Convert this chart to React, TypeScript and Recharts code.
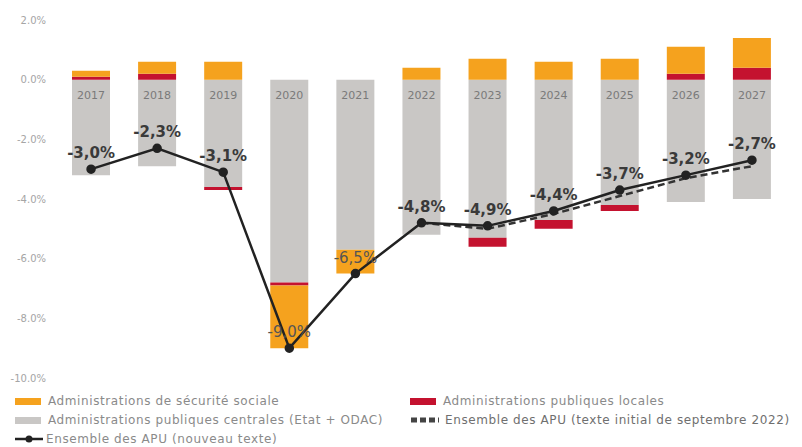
import { Bar, ComposedChart, Line, XAxis, YAxis, LabelList } from 'recharts';

const years = ['2017', '2018', '2019', '2020', '2021', '2022', '2023', '2024', '2025', '2026', '2027'];
const centrales = [-3.2, -2.9, -3.6, -6.8, -5.7, -5.2, -5.3, -4.7, -4.2, -4.1, -4.0];
const locales = [0.1, 0.2, -0.1, -0.1, 0, 0, -0.3, -0.3, -0.2, 0.2, 0.4];
const secu = [0.2, 0.4, 0.6, -2.1, -0.8, 0.4, 0.7, 0.6, 0.7, 0.9, 1.0];
const apuNouveau = [-3.0, -2.3, -3.1, -9.0, -6.5, -4.8, -4.9, -4.4, -3.7, -3.2, -2.7];
const apuInitial = [null, null, null, null, null, -4.8, -5.0, -4.5, -3.9, -3.3, -2.9];
const yTicks = [2, 0, -2, -4, -6, -8, -10];

const data = years.map((year, i) => ({
  year,
  centrales: centrales[i],
  locales: locales[i],
  secu: secu[i],
  nouveau: apuNouveau[i],
  initial: apuInitial[i],
}));

const FONT = '"DejaVu Sans", sans-serif';
const GRAY = '#C9C7C5';
const ORANGE = '#F5A21E';
const RED = '#C4122F';

// year written just under the zero line, inside the grey bar
const YearLabel = (props: any) => {
  const { x, y, width, height, index } = props;
  const top = Math.min(y, y + height);
  return (
    <text x={x + width / 2} y={top + 19} textAnchor="middle" fontSize={11} fill="#7a7a7a" fontFamily={FONT}>
      {years[index]}
    </text>
  );
};

const PointLabel = (props: any) => {
  const { x, y, value, index } = props;
  const faded = index === 3 || index === 4;
  return (
    <text
      x={x}
      y={y - 11}
      textAnchor="middle"
      fontSize={15}
      fontWeight={faded ? 'normal' : 'bold'}
      fill={faded ? '#555' : '#3a3a3a'}
      fontFamily={FONT}
    >
      {value.toFixed(1).replace('.', ',') + '%'}
    </text>
  );
};

const legendText = {
  fontFamily: FONT,
  fontSize: 12,
  letterSpacing: 0.6,
  color: '#8a8a8a',
  whiteSpace: 'nowrap' as const,
};

function Swatch({ color }: { color: string }) {
  return <span style={{ display: 'inline-block', width: 26, height: 7, background: color, marginRight: 7 }} />;
}

function LegendBlock() {
  return (
    <div style={{ position: 'absolute', left: 15, top: 394, width: 790 }}>
      <div style={{ position: 'absolute', left: 0, top: 0, display: 'flex', alignItems: 'center', ...legendText }}>
        <Swatch color={ORANGE} />Administrations de sécurité sociale
      </div>
      <div style={{ position: 'absolute', left: 395, top: 0, display: 'flex', alignItems: 'center', ...legendText }}>
        <Swatch color={RED} />Administrations publiques locales
      </div>
      <div style={{ position: 'absolute', left: 0, top: 19, display: 'flex', alignItems: 'center', ...legendText }}>
        <Swatch color={GRAY} />Administrations publiques centrales (Etat + ODAC)
      </div>
      <div style={{ position: 'absolute', left: 395, top: 19, display: 'flex', alignItems: 'center', ...legendText, color: '#6f6f6f' }}>
        <svg width={30} height={8} style={{ marginRight: 5 }}>
          <line x1={1} y1={4} x2={29} y2={4} stroke="#444" strokeWidth={5} strokeDasharray="6 3" />
        </svg>
        Ensemble des APU (texte initial de septembre 2022)
      </div>
      <div style={{ position: 'absolute', left: 0, top: 38, display: 'flex', alignItems: 'center', ...legendText }}>
        <svg width={28} height={8} style={{ marginRight: 3 }}>
          <line x1={0} y1={4} x2={28} y2={4} stroke="#222" strokeWidth={2.5} />
          <circle cx={14} cy={4} r={3.5} fill="#222" />
        </svg>
        Ensemble des APU (nouveau texte)
      </div>
    </div>
  );
}

export default function App() {
  return (
    <div style={{ position: 'relative', width: 802, height: 447, background: '#fff' }}>
      <style>{'body{margin:0}'}</style>
      <ComposedChart
        width={802}
        height={447}
        data={data}
        stackOffset="sign"
        margin={{ top: 20, right: 17, left: 0, bottom: 69 }}
      >
        <XAxis dataKey="year" hide />
        <YAxis
          width={58}
          domain={[-10, 2]}
          ticks={yTicks}
          interval={0}
          axisLine={false}
          tickLine={false}
          tickMargin={6}
          tick={{ fontSize: 10, fill: '#a5a5a5', fontFamily: FONT }}
          tickFormatter={(v: number) => v.toFixed(1) + '%'}
        />
        <Bar dataKey="centrales" stackId="a" fill={GRAY} barSize={38} isAnimationActive={false}>
          <LabelList dataKey="centrales" content={YearLabel} />
        </Bar>
        <Bar dataKey="locales" stackId="a" fill={RED} barSize={38} isAnimationActive={false} />
        <Bar dataKey="secu" stackId="a" fill={ORANGE} barSize={38} isAnimationActive={false} />
        <Line
          dataKey="initial"
          stroke="#333"
          strokeWidth={2.5}
          strokeDasharray="7 4"
          dot={false}
          connectNulls={false}
          isAnimationActive={false}
        />
        <Line
          dataKey="nouveau"
          stroke="#222"
          strokeWidth={2.5}
          dot={{ r: 3.5, fill: '#222', stroke: '#222' }}
          isAnimationActive={false}
        >
          <LabelList dataKey="nouveau" content={PointLabel} />
        </Line>
      </ComposedChart>
      <LegendBlock />
    </div>
  );
}
